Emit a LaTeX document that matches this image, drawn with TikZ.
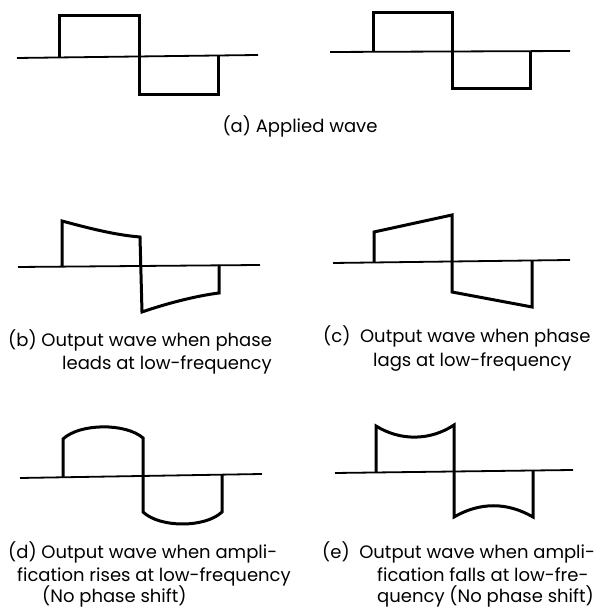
\documentclass[tikz,border=0pt]{standalone}
\usepackage{fontspec}
\setmainfont{Poppins}
\begin{document}
\begin{tikzpicture}[x=1pt,y=1pt,line width=0.4pt]
\providecommand{\capfont}{\fontsize{18}{21}\selectfont}
\tikzset{axis/.style={draw=black,line width=1.8pt},wave/.style={draw=black,line width=3pt,line join=miter},caption/.style={anchor=base west,inner sep=0pt,font=\capfont}}
\useasboundingbox (0,0) rectangle (610,609);
% (a) applied wave, twice
\draw[axis] (17,551) -- (258,554);
\draw[wave] (59,552) -- (59,593) -- (139,593) -- (139,514) -- (218,514) -- (218,554);
\draw[axis] (330,557) -- (570,558);
\draw[wave] (373,557) -- (373,596) -- (452,596) -- (452,520) -- (530,520) -- (530,558);
\node[anchor=base,inner sep=0pt,font=\capfont] (capa) at (300,476) {(a) Applied wave};
% (b) phase leads
\draw[axis] (18,342) -- (260,344);
\draw[wave] (62,342) -- (62,388) .. controls (88,381) and (115,374) .. (140,372) -- (142,297) .. controls (165,305) and (195,313) .. (219,316) -- (219,344);
\node[caption] (capb) at (8,262) {(b) Output wave when phase};
\node[caption] (capbb) at (62,239) {leads at low-frequency};
% (c) phase lags
\draw[axis] (333,346) -- (570,349);
\draw[wave] (374,346) -- (374,377) -- (452,394) -- (452,317) -- (532,302) -- (532,348);
\node[caption] (capc) at (323,266) {(c)\ \ Output wave when phase};
\node[caption] (capcc) at (373,242) {lags at low-frequency};
% (d) amplification rises
\draw[axis] (20,131) -- (262,135);
\draw[wave] (63,131) -- (63,170) .. controls (80,186) and (126,186) .. (143,171) -- (143,97) .. controls (160,81) and (205,81) .. (222,97) -- (222,134);
\node[caption] (capd) at (8,50) {(d) Output wave when ampli-};
\node[caption] (capdd) at (17,27) {fication rises at low-frequency};
\node[caption] (capddd) at (42,6) {(No phase shift)};
% (e) amplification falls
\draw[axis] (335,136) -- (573,139);
\draw[wave] (376,136) -- (376,183) .. controls (400,168) and (430,168) .. (454,184) -- (454,92) .. controls (480,107) and (507,107) .. (533,92) -- (533,138);
\node[caption] (cape) at (322,50) {(e)\ \ Output wave when ampli-};
\node[caption] (capee) at (377,27) {fication falls at low-fre-};
\node[caption] (capeee) at (377,6) {quency (No phase shift)};
\end{tikzpicture}
\end{document}
